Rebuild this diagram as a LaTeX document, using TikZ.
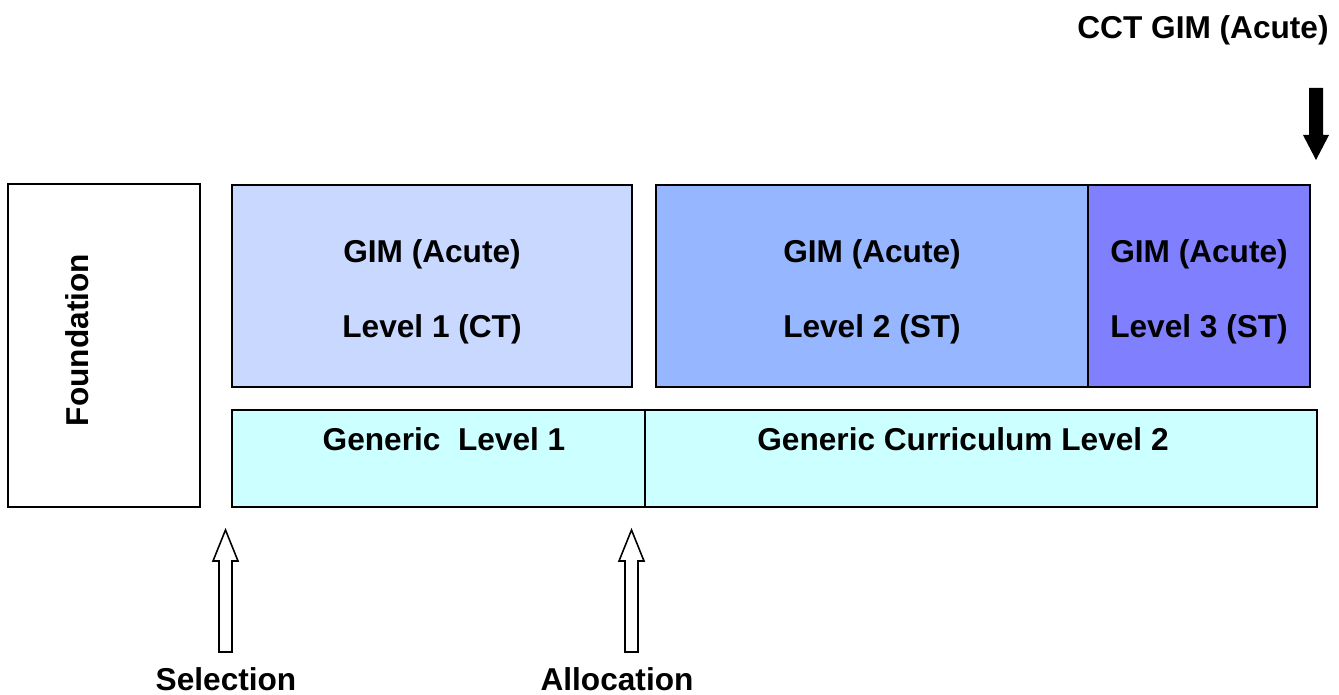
\documentclass[tikz,border=0pt]{standalone}
\usepackage{fontspec}
\setmainfont{Liberation Sans}
\definecolor{lvlone}{HTML}{C8D8FF}
\definecolor{lvltwo}{HTML}{96B6FF}
\definecolor{lvlthree}{HTML}{8080FF}
\definecolor{generic}{HTML}{CCFFFF}
\tikzset{
  box/.style={draw=black, line width=1.1pt},
  lbl/.style={anchor=base, inner sep=0pt, font=\fontsize{18}{21}\selectfont\bfseries},
  hollow/.style={draw=black, fill=white, line width=0.9pt, line join=miter}
}
\begin{document}
\begin{tikzpicture}[x=0.02cm, y=-0.02cm]
    \useasboundingbox (0,0) rectangle (1339,695);
    % boxes
    \draw[box, fill=white] (8,184) rectangle (200,507);
    \draw[box, fill=lvlone] (232,185) rectangle (632,387);
    \draw[box, fill=lvltwo] (656,185) rectangle (1088,387);
    \draw[box, fill=lvlthree] (1088,185) rectangle (1310,387);
    \draw[box, fill=generic] (232,410) rectangle (645,507);
    \draw[box, fill=generic] (645,410) rectangle (1317,507);
    % labels
    \node[lbl, rotate=90] (found) at (88,340) {Foundation};
    \node[lbl] (gimone) at (432,263) {GIM (Acute)};
    \node[lbl] (lvone) at (432,338) {Level 1 (CT)};
    \node[lbl] (gimtwo) at (872,263) {GIM (Acute)};
    \node[lbl] (lvtwo) at (872,338) {Level 2 (ST)};
    \node[lbl] (gimthree) at (1199,263) {GIM (Acute)};
    \node[lbl] (lvthree) at (1199,338) {Level 3 (ST)};
    \node[lbl] (genone) at (444,451) {Generic\ \ Level 1};
    \node[lbl] (gentwo) at (963,451) {Generic Curriculum Level 2};
    \node[lbl] (cct) at (1203,39) {CCT GIM (Acute)};
    \node[lbl] (sel) at (226,690) {Selection};
    \node[lbl] (alloc) at (617,690) {Allocation};
    % arrows
    \fill[black] (1309,88)--(1323,88)--(1323,135)--(1329,135)--(1316,160)--(1303,135)--(1309,135)--cycle;
    \draw[hollow] (219,652)--(232,652)--(232,561)--(238,561)--(225.5,530)--(213,561)--(219,561)--cycle;
    \draw[hollow] (625,652)--(638,652)--(638,561)--(644,561)--(631.5,530)--(619,561)--(625,561)--cycle;
\end{tikzpicture}
\end{document}
